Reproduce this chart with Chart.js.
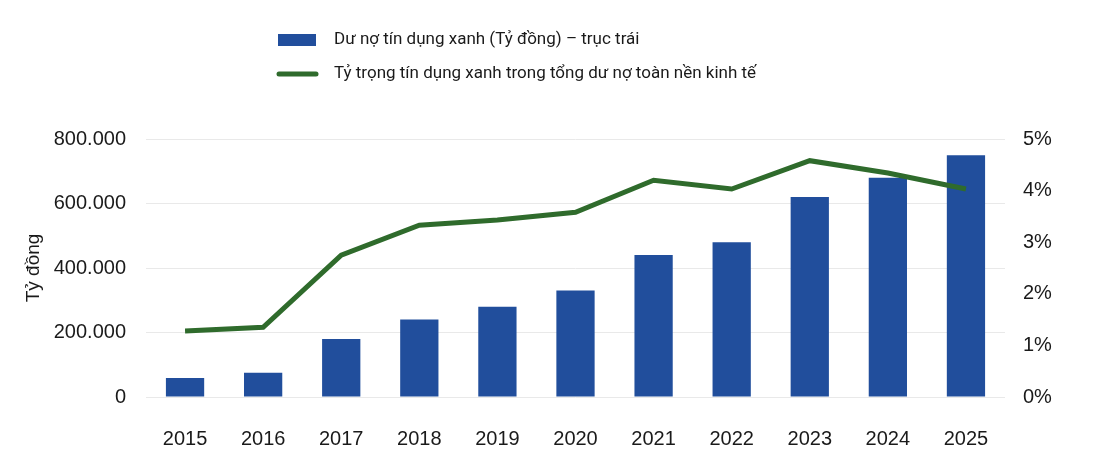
<!DOCTYPE html>
<html lang="vi">
<head>
<meta charset="utf-8">
<title>Tín dụng xanh</title>
<script src="https://cdn.jsdelivr.net/npm/chart.js@4.4.1/dist/chart.umd.min.js"></script>
<style>
  html, body { margin: 0; padding: 0; background: #fff; }
  #wrap { width: 1102px; height: 476px; }
</style>
</head>
<body>
<div id="wrap"><canvas id="myChart" width="1102" height="476"></canvas></div>
<script>
// dữ liệu
const years = ['2015', '2016', '2017', '2018', '2019', '2020', '2021', '2022', '2023', '2024', '2025'];
const greenCredit = [59000, 75000, 180000, 240000, 280000, 330000, 440000, 480000, 620000, 680000, 750000];
const greenShare = [1.28, 1.35, 2.75, 3.33, 3.43, 3.58, 4.2, 4.03, 4.58, 4.34, 4.03];
const leftTicks = [0, 200000, 400000, 600000, 800000];
const rightTicks = [0, 1, 2, 3, 4, 5];

const barLabel = 'Dư nợ tín dụng xanh (Tỷ đồng) – trục trái';
const lineLabel = 'Tỷ trọng tín dụng xanh trong tổng dư nợ toàn nền kinh tế';

const BLUE = '#214E9C';
const GREEN = '#2F6B2C';
const TEXT = '#1a1a1a';

// legend hai dòng, canh trái
const rowLegend = {
    id: 'rowLegend',
    afterDraw(chart) {
        const ctx = chart.ctx;
        const rows = [40, 74];
        ctx.save();
        ctx.font = '17px Roboto, "Noto Sans", sans-serif';
        ctx.textBaseline = 'middle';
        chart.data.datasets.forEach((ds, i) => {
            const y = rows[i];
            if (ds.type === 'line') {
                ctx.strokeStyle = ds.borderColor;
                ctx.lineWidth = 5;
                ctx.lineCap = 'round';
                ctx.beginPath();
                ctx.moveTo(279, y);
                ctx.lineTo(316, y);
                ctx.stroke();
            } else {
                ctx.fillStyle = ds.backgroundColor;
                ctx.fillRect(278, y - 6, 38, 12);
            }
            ctx.fillStyle = TEXT;
            ctx.fillText(ds.label, 334, y);
        });
        ctx.restore();
    }
};

const tickFont = { family: '"Liberation Sans", Arial, sans-serif', size: 20 };

new Chart(document.getElementById('myChart').getContext('2d'), {
    data: {
        labels: years,
        datasets: [
            {
                type: 'bar',
                label: barLabel,
                data: greenCredit,
                backgroundColor: BLUE,
                yAxisID: 'y',
                barPercentage: 0.49,
                categoryPercentage: 1,
                order: 1
            },
            {
                type: 'line',
                label: lineLabel,
                data: greenShare,
                borderColor: GREEN,
                backgroundColor: GREEN,
                borderWidth: 5,
                pointRadius: 0,
                tension: 0,
                yAxisID: 'y1',
                order: 0
            }
        ]
    },
    options: {
        responsive: false,
        animation: false,
        layout: { padding: { top: 139, left: 0, right: 0, bottom: 0 } },
        plugins: {
            legend: { display: false },
            title: { display: false },
            tooltip: { enabled: false }
        },
        scales: {
            x: {
                grid: { display: false, drawTicks: false },
                border: { display: false },
                ticks: { color: TEXT, font: tickFont, padding: 30 },
                afterFit: s => { s.height = 79; }
            },
            y: {
                position: 'left',
                min: 0,
                max: 800000,
                afterBuildTicks: s => { s.ticks = leftTicks.map(v => ({ value: v })); },
                grid: { color: '#E9E9E9', lineWidth: 1, drawTicks: false },
                border: { display: false },
                ticks: {
                    color: TEXT,
                    font: tickFont,
                    padding: 20,
                    callback: v => v.toString().replace(/\B(?=(\d{3})+(?!\d))/g, '.')
                },
                title: {
                    display: true,
                    text: 'Tỷ đồng',
                    color: TEXT,
                    font: { family: '"Liberation Sans", Arial, sans-serif', size: 19 },
                    padding: { top: 22, bottom: 0 }
                },
                afterFit: s => { s.width = 146; }
            },
            y1: {
                position: 'right',
                min: 0,
                max: 5,
                afterBuildTicks: s => { s.ticks = rightTicks.map(v => ({ value: v })); },
                grid: { display: false, drawTicks: false },
                border: { display: false },
                ticks: {
                    color: TEXT,
                    font: tickFont,
                    padding: 18,
                    callback: v => v + '%'
                },
                afterFit: s => { s.width = 97; }
            }
        }
    },
    plugins: [rowLegend]
});
</script>
</body>
</html>
